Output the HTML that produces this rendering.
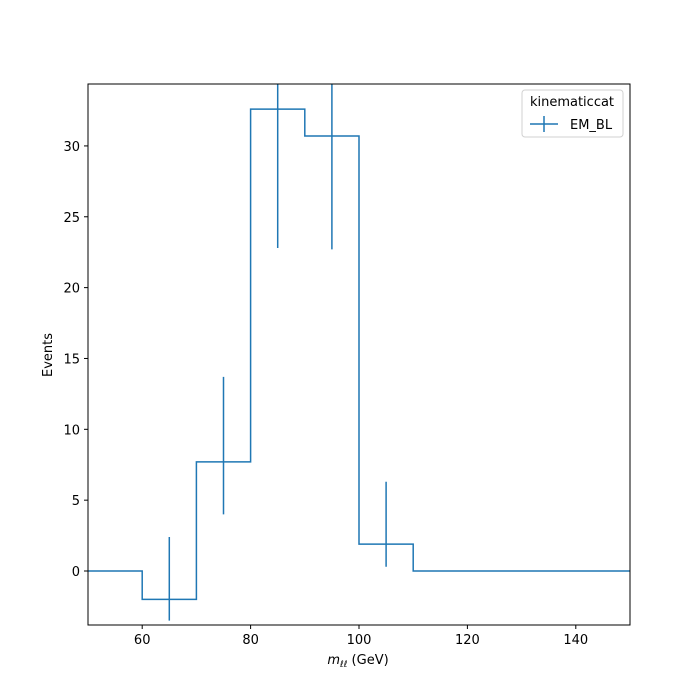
<!DOCTYPE html>
<html><head><meta charset="utf-8"><style>
html,body{margin:0;padding:0;background:#fff;width:700px;height:700px;overflow:hidden}
svg{display:block}
svg text{font-family:"DejaVu Sans","Liberation Sans",sans-serif;font-size:13px;fill:#000}
</style></head><body>
<svg id="chart" width="700" height="700" xmlns="http://www.w3.org/2000/svg">
<rect x="0" y="0" width="700" height="700" fill="#fff"/>
<g id="marks"></g>
<g id="axes"></g>
<rect x="88" y="84" width="542" height="541" fill="none" stroke="#000" stroke-width="1"/>
<g>
<rect x="522" y="90" width="101" height="47" rx="3" fill="#fff" stroke="#ccc" stroke-opacity="0.9"/>
<text x="572" y="106" text-anchor="middle">kinematiccat</text>
<line x1="530" y1="124" x2="558" y2="124" stroke="#1f77b4" stroke-width="1.5"/>
<line x1="544" y1="116" x2="544" y2="132" stroke="#1f77b4" stroke-width="1.5"/>
<text x="570" y="129">EM_BL</text>
</g>
<text x="52" y="355" text-anchor="middle" transform="rotate(-90 52 355)">Events</text>
<text x="358" y="664" text-anchor="middle"><tspan font-style="italic">m</tspan><tspan font-style="italic" font-size="9" dy="3">ℓℓ</tspan><tspan dy="-3"> (GeV)</tspan></text>
</svg>
<script>
const binEdges = [50,60,70,80,90,100,110,120,130,140,150];
const counts = [0,-2,7.7,32.6,30.7,1.9,0,0,0,0];
const errLow = [0,-3.5,4.0,22.8,22.7,0.3,0,0,0,0];
const errHigh = [0,2.4,13.7,42.4,38.7,6.3,0,0,0,0];
const xTicks = [60,80,100,120,140];
const yTicks = [0,5,10,15,20,25,30];
const X0=88,X1=630,Y0=625,Y1=84,xMin=50,xMax=150,yMin=-3.81,yMax=34.37;
const sx=v=>X0+(v-xMin)/(xMax-xMin)*(X1-X0);
const sy=v=>Y0-(v-yMin)/(yMax-yMin)*(Y0-Y1);
const NS="http://www.w3.org/2000/svg";
const marks=document.getElementById('marks'),axes=document.getElementById('axes');
function mk(tag,attrs,parent){const e=document.createElementNS(NS,tag);for(const k in attrs)e.setAttribute(k,attrs[k]);parent.appendChild(e);return e;}
const clip=mk('clipPath',{id:'pc'},document.getElementById('chart'));
mk('rect',{x:X0,y:Y1,width:X1-X0,height:Y0-Y1},clip);
marks.setAttribute('clip-path','url(#pc)');
let d='';
for(let i=0;i<counts.length;i++){
  const y=sy(counts[i]);
  d+=(i===0?'M':'L')+sx(binEdges[i])+','+y+' L'+sx(binEdges[i+1])+','+y+' ';
}
const step=mk('path',{d:d,fill:'none',stroke:'#1f77b4','stroke-width':1.5},marks);


for(let i=0;i<counts.length;i++){
  if(errLow[i]===errHigh[i])continue;
  const cx=sx((binEdges[i]+binEdges[i+1])/2);
  const eb=mk('line',{x1:cx,x2:cx,y1:sy(errLow[i]),y2:sy(errHigh[i]),stroke:'#1f77b4','stroke-width':1.5},marks);
  
  
}
xTicks.forEach(t=>{
  const x=sx(t);
  mk('line',{x1:x,x2:x,y1:Y0,y2:Y0+4,stroke:'#000'},axes);
  const tx=mk('text',{x:x,y:Y0+19,'text-anchor':'middle'},axes);tx.textContent=t;
  
  
});
yTicks.forEach(t=>{
  const y=sy(t);
  mk('line',{x1:X0-4,x2:X0,y1:y,y2:y,stroke:'#000'},axes);
  const tx=mk('text',{x:X0-8,y:y+5,'text-anchor':'end'},axes);tx.textContent=t;
  
  
});
</script>
</body></html>
